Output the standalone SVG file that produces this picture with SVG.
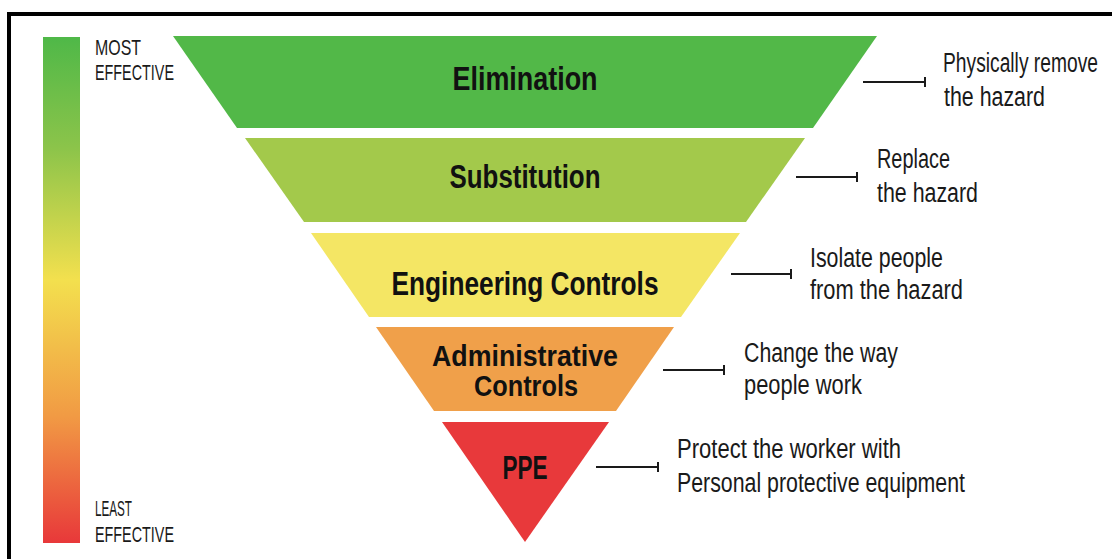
<svg xmlns="http://www.w3.org/2000/svg" width="1112" height="559" viewBox="0 0 1112 559">
  <style>
    .lvl { font-family: "Liberation Sans Narrow", "Liberation Sans", "DejaVu Sans Condensed", sans-serif; font-weight: bold; fill: #111; }
    .desc { font-family: "Liberation Sans Narrow", "Liberation Sans", "DejaVu Sans Condensed", sans-serif; fill: #1a1a1a; font-size: 27px; }
    .scale { font-family: "Liberation Sans Narrow", "Liberation Sans", "DejaVu Sans Condensed", sans-serif; fill: #1a1a1a; font-size: 22px; }
    .conn { stroke: #1a1a1a; stroke-width: 2; fill: none; }
  </style>
  <defs>
    <linearGradient id="effGrad" x1="0" y1="0" x2="0" y2="1">
      <stop offset="0" stop-color="#4fb848"/>
      <stop offset="0.22" stop-color="#8cc44a"/>
      <stop offset="0.48" stop-color="#f3e04e"/>
      <stop offset="0.75" stop-color="#f19a44"/>
      <stop offset="1" stop-color="#e8383a"/>
    </linearGradient>
  </defs>
  <rect width="1112" height="559" fill="#ffffff"/>
  <path d="M9 559 V14 H1112" fill="none" stroke="#000" stroke-width="4"/>

  <g id="scale-bar">
    <rect x="43" y="37" width="37" height="506" fill="url(#effGrad)"/>
    <text class="scale" x="95" y="55" textLength="46" lengthAdjust="spacingAndGlyphs">MOST</text>
    <text class="scale" x="95" y="80" textLength="79" lengthAdjust="spacingAndGlyphs">EFFECTIVE</text>
    <text class="scale" x="95" y="516" textLength="37" lengthAdjust="spacingAndGlyphs">LEAST</text>
    <text class="scale" x="95" y="542" textLength="79" lengthAdjust="spacingAndGlyphs">EFFECTIVE</text>
  </g>

  <g id="elimination">
    <polygon points="173,36 877,36 813,128 237,128" fill="#52b848"/>
    <text class="lvl" x="525" y="90" font-size="33" text-anchor="middle" textLength="145" lengthAdjust="spacingAndGlyphs">Elimination</text>
  </g>
  <g id="substitution">
    <polygon points="245,138 805,138 746,222 304,222" fill="#a3c94b"/>
    <text class="lvl" x="525" y="188" font-size="33" text-anchor="middle" textLength="151" lengthAdjust="spacingAndGlyphs">Substitution</text>
  </g>
  <g id="engineering">
    <polygon points="311,233 740,233 681,317 369,317" fill="#f4e664"/>
    <text class="lvl" x="525" y="295" font-size="33" text-anchor="middle" textLength="267" lengthAdjust="spacingAndGlyphs">Engineering Controls</text>
  </g>
  <g id="administrative">
    <polygon points="376,327 674,327 616,411 434,411" fill="#f0a04a"/>
    <text class="lvl" x="525" y="366" font-size="29" text-anchor="middle" textLength="186" lengthAdjust="spacingAndGlyphs">Administrative</text>
    <text class="lvl" x="526" y="396" font-size="29" text-anchor="middle" textLength="104" lengthAdjust="spacingAndGlyphs">Controls</text>
  </g>
  <g id="ppe">
    <polygon points="442,422 609,422 525,542" fill="#e8393b"/>
    <text class="lvl" x="525" y="479" font-size="33" text-anchor="middle" textLength="45" lengthAdjust="spacingAndGlyphs">PPE</text>
  </g>

  <g id="connectors">
    <path class="conn" d="M863 82 H925 M925 77 V87"/>
    <path class="conn" d="M796 177 H857 M857 172 V182"/>
    <path class="conn" d="M731 274 H791 M791 269 V279"/>
    <path class="conn" d="M663 370 H724 M724 365 V375"/>
    <path class="conn" d="M596 467 H658 M658 462 V472"/>
  </g>

  <g id="descriptions">
    <text class="desc" x="943" y="72" textLength="155" lengthAdjust="spacingAndGlyphs">Physically remove</text>
    <text class="desc" x="944" y="106" textLength="101" lengthAdjust="spacingAndGlyphs">the hazard</text>
    <text class="desc" x="877" y="168" textLength="73" lengthAdjust="spacingAndGlyphs">Replace</text>
    <text class="desc" x="877" y="202" textLength="101" lengthAdjust="spacingAndGlyphs">the hazard</text>
    <text class="desc" x="810" y="267" textLength="133" lengthAdjust="spacingAndGlyphs">Isolate people</text>
    <text class="desc" x="810" y="299" textLength="153" lengthAdjust="spacingAndGlyphs">from the hazard</text>
    <text class="desc" x="744" y="362" textLength="154" lengthAdjust="spacingAndGlyphs">Change the way</text>
    <text class="desc" x="744" y="394" textLength="118" lengthAdjust="spacingAndGlyphs">people work</text>
    <text class="desc" x="677" y="458" textLength="224" lengthAdjust="spacingAndGlyphs">Protect the worker with</text>
    <text class="desc" x="677" y="492" textLength="288" lengthAdjust="spacingAndGlyphs">Personal protective equipment</text>
  </g>
</svg>
